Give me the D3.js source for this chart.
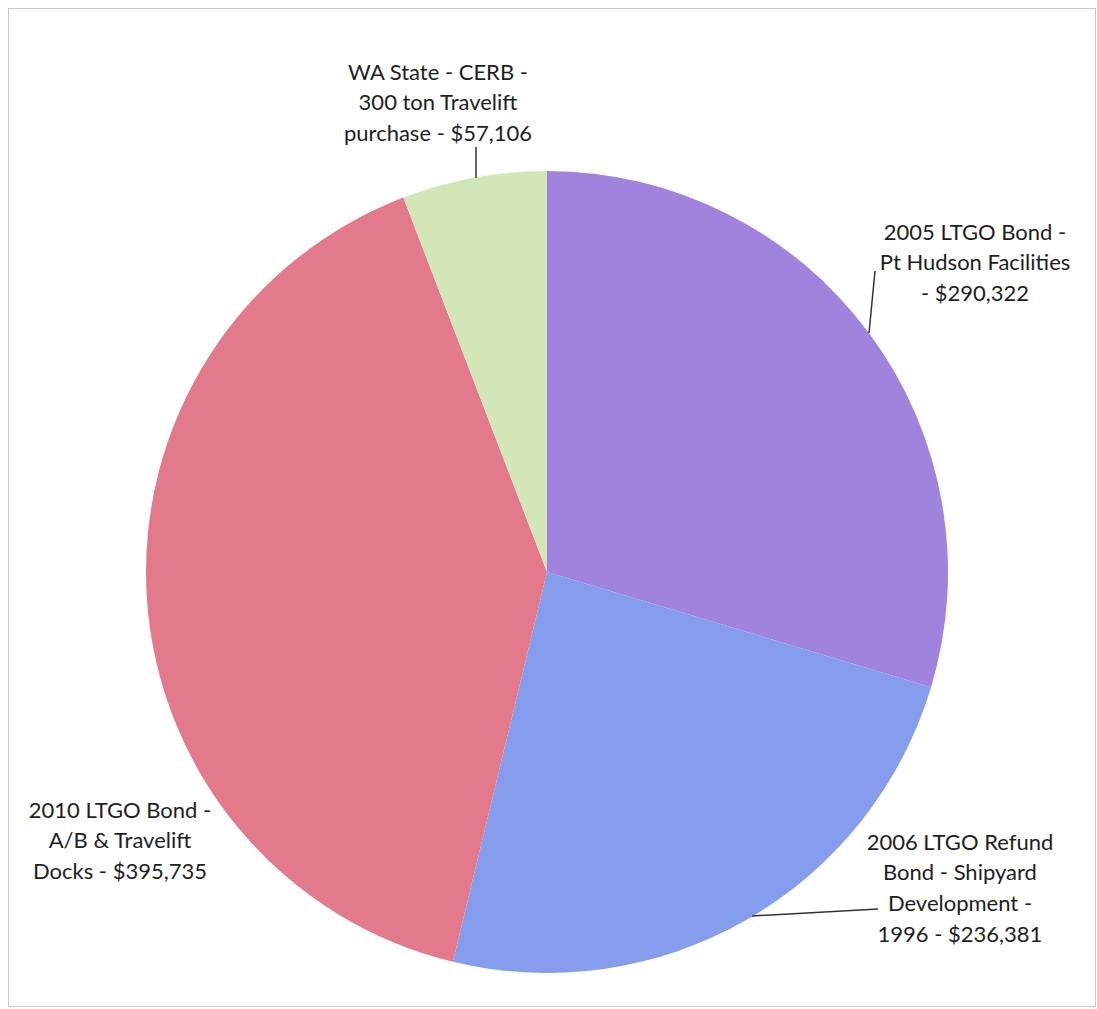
<!DOCTYPE html>
<html><head><meta charset="utf-8">
<script src="https://cdn.jsdelivr.net/npm/d3@7"></script>
<style>body{margin:0;background:#fff}svg{display:block}</style>
</head><body>
<script>
const categories = ["2005 LTGO Bond - Pt Hudson Facilities", "2006 LTGO Refund Bond - Shipyard Development - 1996", "2010 LTGO Bond - A/B & Travelift Docks", "WA State - CERB - 300 ton Travelift purchase"];
const values = [290322, 236381, 395735, 57106];
const labelLines = [
  ["2005 LTGO Bond -", "Pt Hudson Facilities", "- $290,322"],
  ["2006 LTGO Refund", "Bond - Shipyard", "Development -", "1996 - $236,381"],
  ["2010 LTGO Bond -", "A/B & Travelift", "Docks - $395,735"],
  ["WA State - CERB -", "300 ton Travelift", "purchase - $57,106"]
];
const colors = ["#9f83dc", "#869cec", "#e27a8b", "#d3e6b8"];

const W = 1097, H = 1009;
const cx = 547, cy = 572, R = 401;
const svg = d3.select("body").append("svg").attr("width", W).attr("height", H);

// border
svg.append("rect").attr("x", 8.5).attr("y", 8.5).attr("width", W - 10).attr("height", H - 11)
  .attr("fill", "none").attr("stroke", "#c8c8c8").attr("stroke-width", 1);

const data = categories.map((c, i) => ({name: c, value: values[i], lines: labelLines[i], color: colors[i]}));
const pie = d3.pie().value(d => d.value).sort(null);
const arc = d3.arc().innerRadius(0).outerRadius(R);
const arcs = pie(data);

const g = svg.append("g").attr("transform", `translate(${cx},${cy})`);
g.selectAll("path").data(arcs).join("path").attr("d", arc).attr("fill", d => d.data.color);

const labelPos = [
  {x: 975, y: 232},
  {x: 960, y: 842},
  {x: 120, y: 810},
  {x: 438, y: 72}
];
const leaders = [
  [[875, 271], [869, 333]],
  [[878, 909], [752, 916]],
  null,
  [[476, 147], [476, 178]]
];
const lh = 30.7;
data.forEach((d, i) => {
  const t = svg.append("text").attr("text-anchor", "middle")
    .attr("font-family", "Lato, 'Open Sans', sans-serif").attr("font-size", 22).attr("fill", "#1e1e1e");
  d.lines.forEach((ln, j) => {
    t.append("tspan").attr("x", labelPos[i].x).attr("y", labelPos[i].y + j * lh).attr("dy", "0.35em").text(ln);
  });
  if (leaders[i]) {
    svg.append("path").attr("d", d3.line()(leaders[i])).attr("stroke", "#333").attr("stroke-width", 1.5).attr("fill", "none");
  }
});
</script>
</body></html>
